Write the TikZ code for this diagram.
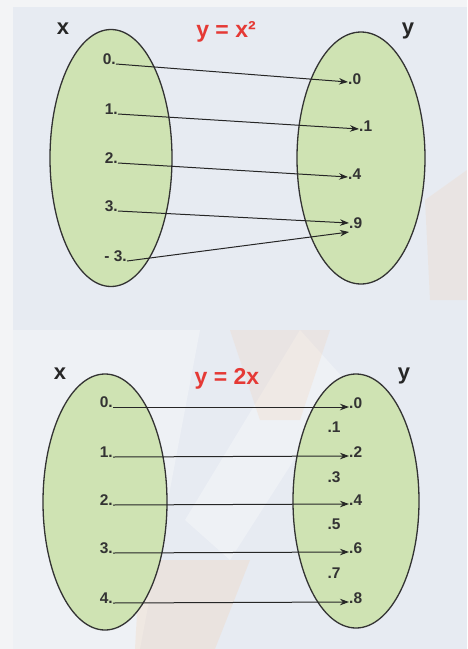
\documentclass[tikz,border=0pt]{standalone}
\usepackage{fontspec}
\setmainfont{Liberation Sans}
\usetikzlibrary{arrows.meta,shapes.geometric}
\definecolor{bgmain}{HTML}{E7EBF2}
\definecolor{bgstrip}{HTML}{F3F4F6}
\definecolor{fillg}{HTML}{CFE3B3}
\definecolor{edgec}{HTML}{333333}
\definecolor{redt}{HTML}{E53935}
\definecolor{wmor}{HTML}{F6C9A0}
\begin{document}
\begin{tikzpicture}[x=1pt,y=-1pt,
  setell/.style={draw=edgec, line width=1.3pt, fill=fillg, ellipse, inner sep=0pt},
  lab/.style={font=\fontsize{15.5}{18}\selectfont\bfseries, text=black!80, inner sep=0pt},
  lleft/.style={lab, anchor=south east},
  lright/.style={lab, anchor=south west},
  axislab/.style={font=\fontsize{22}{24}\selectfont\bfseries, text=black!85, inner sep=0pt},
  title/.style={font=\fontsize{23}{26}\selectfont\bfseries, text=redt, inner sep=0pt},
  maparrow/.style={draw=black!85, line width=1pt, -{Stealth[length=9pt,width=6.5pt]}}]
\useasboundingbox (0,0) rectangle (467,649);
% background with faint watermark
\fill[bgmain] (0,0) rectangle (467,649);
\fill[white, opacity=0.3] (13,330) -- (200,330) -- (140,649) -- (13,649) -- cycle;
\fill[white, opacity=0.3] (300,330) -- (345,380) -- (230,560) -- (185,520) -- cycle;
\fill[wmor, opacity=0.18] (230,330) -- (330,330) -- (300,420) -- (260,420) -- cycle;
\fill[wmor, opacity=0.22] (140,560) -- (250,560) -- (215,649) -- (135,649) -- cycle;
\fill[wmor, opacity=0.18] (425,200) -- (467,170) -- (467,300) -- (430,300) -- cycle;
\fill[bgstrip] (0,0) rectangle (467,7);
\fill[bgstrip] (0,0) rectangle (13,649);

% ---------- top: y = x^2 ----------
\node[setell, minimum width=122pt, minimum height=257pt] (XA) at (111,158) {};
\node[setell, minimum width=128pt, minimum height=252pt] (YA) at (361,158) {};
\node[axislab] (xa) at (63,29) {x};
\node[axislab] (ya) at (408,31) {y};
\node[title] (ta) at (226,32) {y = x²};

\node[lleft] (a0) at (116,65) {0.};
\node[lleft] (a1) at (118,115) {1.};
\node[lleft] (a2) at (118,164) {2.};
\node[lleft] (a3) at (118,212) {3.};
\node[lleft] (am3) at (127,262) {- 3.};

\node[lright] (b0) at (348,85) {.0};
\node[lright] (b1) at (359,132) {.1};
\node[lright] (b4) at (348,180) {.4};
\node[lright] (b9) at (349,229) {.9};

\draw[maparrow] ([yshift=1pt]a0.south east) -- ([yshift=3pt]b0.south west);
\draw[maparrow] ([yshift=1pt]a1.south east) -- ([yshift=3pt]b1.south west);
\draw[maparrow] ([yshift=1pt]a2.south east) -- ([yshift=3pt]b4.south west);
\draw[maparrow] ([yshift=1pt]a3.south east) -- ([yshift=6pt]b9.south west);
\draw[maparrow] ([yshift=1pt]am3.south east) -- ([yshift=-3pt]b9.south west);

% ---------- bottom: y = 2x ----------
\node[setell, minimum width=124pt, minimum height=256pt] (XB) at (105,502) {};
\node[setell, minimum width=126pt, minimum height=254pt] (YB) at (356,501) {};
\node[axislab] (xb) at (60,374) {x};
\node[axislab] (yb) at (404,376) {y};
\node[title] (tb) at (227,379) {y = 2x};

\node[lleft] (c0) at (113,408) {0.};
\node[lleft] (c1) at (113,458) {1.};
\node[lleft] (c2) at (113,506) {2.};
\node[lleft] (c3) at (113,554) {3.};
\node[lleft] (c4) at (113,604) {4.};

\node[lright] (d0) at (349,409) {.0};
\node[lab] (d1) at (334,427) {.1};
\node[lright] (d2) at (349,458) {.2};
\node[lab] (d3) at (334,477) {.3};
\node[lright] (d4) at (349,506) {.4};
\node[lab] (d5) at (334,524) {.5};
\node[lright] (d6) at (349,554) {.6};
\node[lab] (d7) at (334,573) {.7};
\node[lright] (d8) at (349,604) {.8};

\draw[maparrow] ([yshift=1pt]c0.south east) -- ([yshift=2pt]d0.south west);
\draw[maparrow] ([yshift=1pt]c1.south east) -- ([yshift=2pt]d2.south west);
\draw[maparrow] ([yshift=1pt]c2.south east) -- ([yshift=2pt]d4.south west);
\draw[maparrow] ([yshift=1pt]c3.south east) -- ([yshift=2pt]d6.south west);
\draw[maparrow] ([yshift=1pt]c4.south east) -- ([yshift=2pt]d8.south west);
\end{tikzpicture}
\end{document}
